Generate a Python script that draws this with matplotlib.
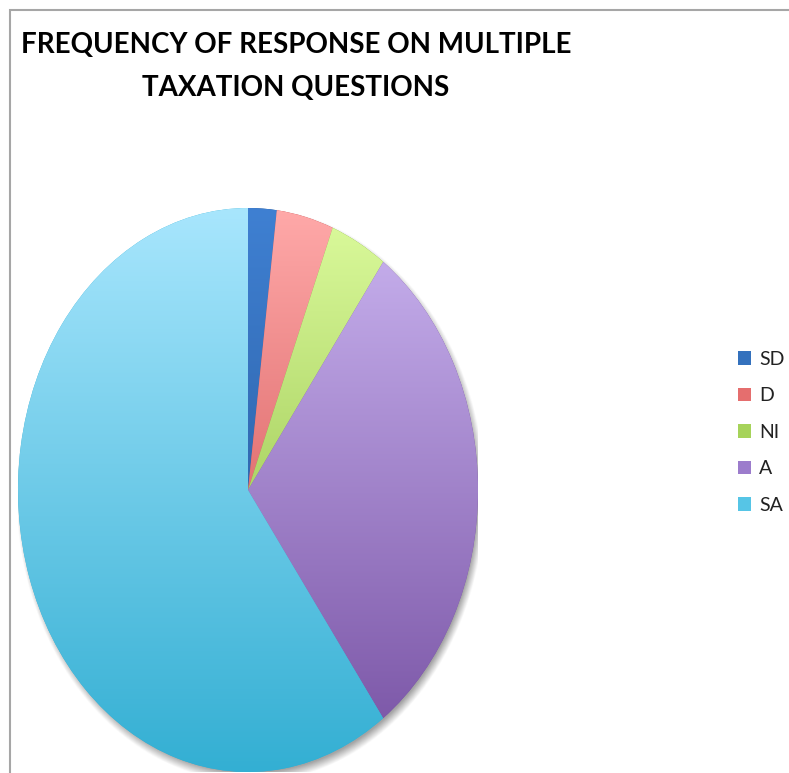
import numpy as np
import matplotlib.pyplot as plt
from matplotlib.colors import to_rgb
from matplotlib.patches import Rectangle, Patch

labels = ['SD', 'D', 'NI', 'A', 'SA']
values = [2, 4, 4, 30, 60]
top_colors = ['#3f80d2', '#ffa9a9', '#dcfb9d', '#cbb5f1', '#a8e6fd']
bottom_colors = ['#22508e', '#c43c3d', '#7eae2f', '#7650a2', '#33afd3']
legend_colors = ['#3471bd', '#e56e6e', '#a6d35a', '#9c7ccc', '#56c5e6']

W, H = 789, 773
fig = plt.figure(figsize=(W / 100, H / 100), dpi=100)

# frame lines along top and left
fig.add_artist(Rectangle((10 / W, -0.1), 1.2, 1 - 10 / H + 0.1, transform=fig.transFigure,
                         fill=False, edgecolor='#a6a6a6', linewidth=1.5))

ax = fig.add_axes([18 / W, 1 / H, 460 / W, 564 / H])
ax.set_xlim(-1, 1)
ax.set_ylim(-1, 1)
ax.axis('off')

# soft drop shadow behind the pie
n = 600
xs = np.linspace(-1.1, 1.1, n)
X, Y = np.meshgrid(xs, xs)
R = np.hypot(X - 0.012, Y + 0.018)
a = np.clip(1 - (R - 0.985) / 0.035, 0, 1) * 0.55
shadow = np.zeros((n, n, 4))
shadow[..., :3] = 0.35
shadow[..., 3] = a
ax.imshow(shadow, extent=(-1.1, 1.1, -1.1, 1.1), origin='lower', zorder=0,
          interpolation='bilinear', aspect='auto')

wedges, _ = ax.pie(values, startangle=90, counterclock=False, radius=1,
                   wedgeprops=dict(linewidth=0))
for w in wedges:
    w.set_zorder(1)

ax.set_aspect('auto')
ax.set_xlim(-1, 1)
ax.set_ylim(-1, 1)

# vertical gradient fill for each slice
t = np.linspace(0, 1, 256)[:, None]
for w, c0, c1 in zip(wedges, top_colors, bottom_colors):
    c0 = np.array(to_rgb(c0))
    c1 = np.array(to_rgb(c1))
    grad = c1 * (1 - t[..., None]) + c0 * t[..., None]
    grad = np.repeat(grad, 4, axis=1)
    w.set_facecolor(c1)
    im = ax.imshow(grad, extent=(-1, 1, -1, 1), origin='lower', zorder=2,
                   interpolation='bilinear', aspect='auto')
    im.set_clip_path(w)

fam = ['Lato', 'DejaVu Sans']
fig.text(296 / W, 1 - 45 / H, 'FREQUENCY OF RESPONSE ON MULTIPLE', ha='center', va='center',
         fontsize=20, fontweight='bold', family=fam)
fig.text(296 / W, 1 - 88 / H, 'TAXATION QUESTIONS', ha='center', va='center',
         fontsize=20, fontweight='bold', family=fam)

handles = [Patch(facecolor=c, edgecolor='none') for c in legend_colors]
leg = fig.legend(handles, labels, loc='upper left', bbox_to_anchor=(730 / W, 1 - 343 / H),
                 frameon=False, prop={'family': fam, 'size': 14},
                 handlelength=0.7, handleheight=0.7, handletextpad=0.4, labelspacing=1.0,
                 borderaxespad=0)
for txt in leg.get_texts():
    txt.set_color('#222222')

fig.savefig('out.png', dpi=100)
